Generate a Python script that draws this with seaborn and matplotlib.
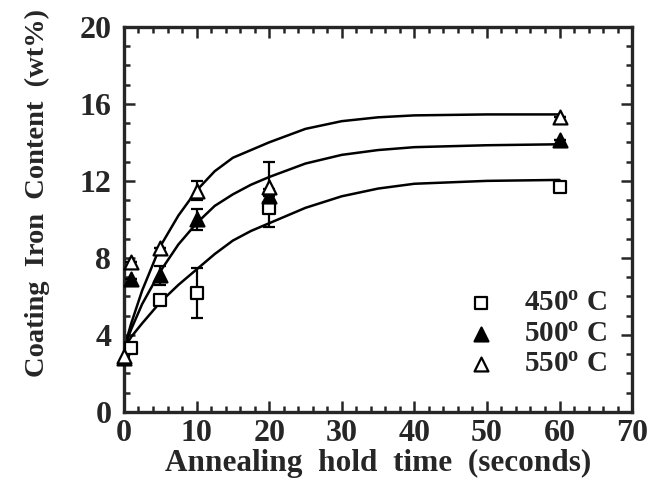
import numpy as np
import pandas as pd
import matplotlib
matplotlib.use("Agg")
import matplotlib.pyplot as plt
from matplotlib.ticker import MultipleLocator
import seaborn as sns

# fitted curves
curve_t = [0, 1, 2.5, 5, 7.5, 10, 12.5, 15, 17.5, 20, 25, 30, 35, 40, 50, 60]
curve_450 = [3.3, 3.9, 4.6, 5.7, 6.6, 7.4, 8.2, 8.9, 9.4, 9.8, 10.6, 11.2, 11.6, 11.85, 12.0, 12.05]
curve_500 = [3.3, 4.3, 5.6, 7.3, 8.7, 9.8, 10.7, 11.3, 11.8, 12.2, 12.9, 13.35, 13.6, 13.75, 13.85, 13.9]
curve_550 = [3.3, 4.6, 6.3, 8.6, 10.2, 11.5, 12.5, 13.2, 13.6, 14.0, 14.7, 15.1, 15.3, 15.4, 15.45, 15.45]

# measured points
t_450 = [1, 5, 10, 20, 60]
fe_450 = [3.3, 5.8, 6.2, 10.6, 11.7]
err_450 = [0, 0, 1.3, 1.0, 0]

t_500 = [0, 1, 5, 10, 20, 60]
fe_500 = [2.8, 6.9, 7.1, 10.0, 11.2, 14.1]
err_500 = [0, 0, 0.5, 0.55, 0, 0]

t_550 = [0, 1, 5, 10, 20, 60]
fe_550 = [2.9, 7.8, 8.5, 11.5, 11.7, 15.3]
err_550 = [0, 0, 0, 0.5, 1.3, 0]

labels = ["450", "500", "550"]

sns.set_style("ticks")
plt.rcParams["font.family"] = ["Liberation Serif", "DejaVu Serif"]
plt.rcParams["font.weight"] = "bold"
plt.rcParams["mathtext.fontset"] = "custom"
plt.rcParams["mathtext.rm"] = "Liberation Serif:bold"
plt.rcParams["mathtext.it"] = "Liberation Serif:bold"
plt.rcParams["mathtext.bf"] = "Liberation Serif:bold"

curves = pd.DataFrame({
    "t": curve_t * 3,
    "fe": curve_450 + curve_500 + curve_550,
    "temp": [labels[0]] * len(curve_t) + [labels[1]] * len(curve_t) + [labels[2]] * len(curve_t),
})

fig = plt.figure(figsize=(6.49, 4.87), dpi=100)
ax = fig.add_axes([0.191, 0.154, 0.783, 0.791])

sns.lineplot(data=curves, x="t", y="fe", units="temp", estimator=None,
             color="black", lw=1.8, ax=ax, legend=False)

series = [
    (t_450, fe_450, err_450, "s", "white", labels[0], 85),
    (t_500, fe_500, err_500, "^", "black", labels[1], 100),
    (t_550, fe_550, err_550, "^", "white", labels[2], 100),
]
for t, fe, err, mk, fc, lab, sz in series:
    ax.errorbar(t, fe, yerr=err, fmt="none", ecolor="black", elinewidth=1.6,
                capsize=4, capthick=1.6, zorder=3)
    sns.scatterplot(x=t, y=fe, marker=mk, s=sz, facecolor=fc, edgecolor="black",
                    linewidth=1.6, label=lab + "$^{o}$ C", ax=ax, zorder=4, clip_on=False)

ax.set_xlim(0, 70)
ax.set_ylim(0, 20)
ax.xaxis.set_major_locator(MultipleLocator(10))
ax.xaxis.set_minor_locator(MultipleLocator(2))
ax.yaxis.set_major_locator(MultipleLocator(4))
ax.yaxis.set_minor_locator(MultipleLocator(1))
ax.tick_params(which="both", direction="in", top=True, right=True, width=1.8,
               labelsize=23)
ax.tick_params(axis="x", which="major", length=8, pad=5)
ax.tick_params(axis="y", which="major", length=8, pad=9)
ax.tick_params(which="minor", length=4)
for sp in ax.spines.values():
    sp.set_linewidth(2.4)

ax.set_xlabel("Annealing  hold  time  (seconds)", fontsize=22.5, fontweight="bold")
ax.set_ylabel("Coating  Iron  Content  (wt%)", fontsize=20.5, fontweight="bold")
ax.xaxis.set_label_coords(0.5, -0.097)
ax.yaxis.set_label_coords(-0.146, 0.569)

leg = ax.legend(loc="lower right", bbox_to_anchor=(0.99, 0.035), frameon=False,
                fontsize=21, handletextpad=0.7, labelspacing=0.12, borderpad=0.2,
                handlelength=1.5)

fig.savefig("out.png", dpi=100)
